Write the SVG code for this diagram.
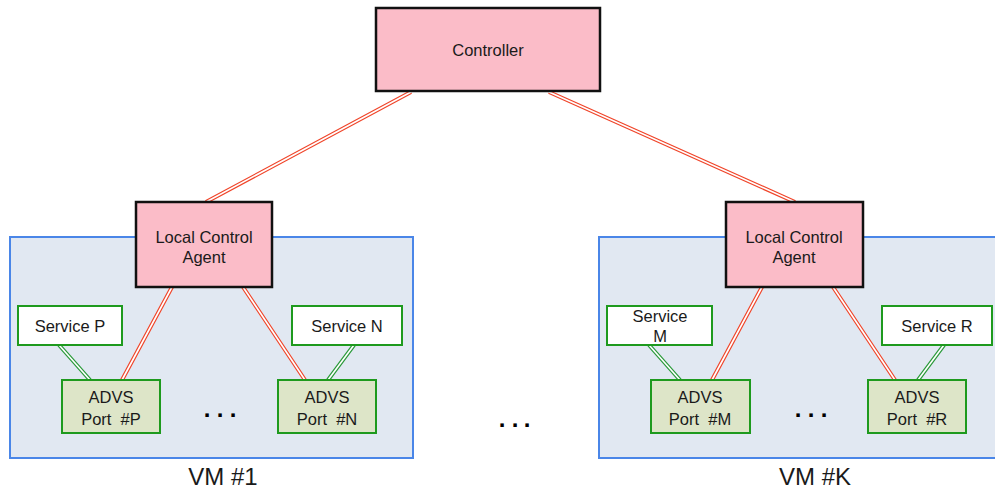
<svg xmlns="http://www.w3.org/2000/svg" width="995" height="491" viewBox="0 0 995 491">
<style>
text{font-family:"Liberation Sans",Arial,sans-serif;fill:#1a1a1a;text-anchor:middle}
.t{font-size:16.5px}
.big{font-size:24px}
.dots{font-size:24px;font-weight:bold;fill:#000}
.vm{fill:#e1e8f2;stroke:#4a86e8;stroke-width:2}
.ctl{fill:#fbbcc8;stroke:#111;stroke-width:2.5}
.svc{fill:#fff;stroke:#1e9a1e;stroke-width:2}
.port{fill:#dde5c8;stroke:#1e9a1e;stroke-width:2}
.ro{stroke:#f0452a;stroke-width:4;fill:none}
.go{stroke:#2a9a3a;stroke-width:4;fill:none}
.in{stroke:#fff;stroke-width:1.6;fill:none}
</style>
<rect width="995" height="491" fill="#fff"/>
<g id="vm1"><rect class="vm" x="10" y="237" width="403" height="221"/></g>
<g id="vmk"><rect class="vm" x="599" y="237" width="400" height="221"/></g>
<g id="connectors">
<g class="ro"><path d="M411,92 L206,202 M549,92 L795,202 M172,287 L122,380 M243,287 L305,380 M762,287 L712,380 M833,287 L895,380"/></g>
<g class="go"><path d="M59,345 L90,380 M354,345 L328,380 M649,345 L680,380 M944,345 L918,380"/></g>
<g class="in"><path d="M411,92 L206,202 M549,92 L795,202 M172,287 L122,380 M243,287 L305,380 M762,287 L712,380 M833,287 L895,380 M59,345 L90,380 M354,345 L328,380 M649,345 L680,380 M944,345 L918,380"/></g>
</g>
<g id="controller"><rect class="ctl" x="376" y="8" width="224" height="83"/><text class="t" x="488" y="56">Controller</text></g>
<g id="lca1"><rect class="ctl" x="136" y="202" width="136" height="85"/><text class="t" x="204" y="243">Local Control</text><text class="t" x="204" y="263">Agent</text></g>
<g id="lcak"><rect class="ctl" x="726" y="202" width="137" height="85"/><text class="t" x="794" y="243">Local Control</text><text class="t" x="794" y="263">Agent</text></g>
<g id="serviceP"><rect class="svc" x="18" y="306" width="104" height="39"/><text class="t" x="70" y="332">Service P</text></g>
<g id="serviceN"><rect class="svc" x="292" y="306" width="110" height="39"/><text class="t" x="347" y="332">Service N</text></g>
<g id="serviceM"><rect class="svc" x="607" y="306" width="105" height="39"/><text class="t" x="660" y="322">Service</text><text class="t" x="660" y="342">M</text></g>
<g id="serviceR"><rect class="svc" x="882" y="306" width="110" height="39"/><text class="t" x="937" y="332">Service R</text></g>
<g id="portP"><rect class="port" x="62" y="380" width="98" height="53"/><text class="t" x="111" y="403">ADVS</text><text class="t" x="111" y="425" xml:space="preserve">Port  #P</text></g>
<g id="portN"><rect class="port" x="278" y="380" width="98" height="53"/><text class="t" x="327" y="403">ADVS</text><text class="t" x="327" y="425" xml:space="preserve">Port  #N</text></g>
<g id="portM"><rect class="port" x="651" y="380" width="99" height="53"/><text class="t" x="700" y="403">ADVS</text><text class="t" x="700" y="425" xml:space="preserve">Port  #M</text></g>
<g id="portR"><rect class="port" x="868" y="380" width="98" height="53"/><text class="t" x="917" y="403">ADVS</text><text class="t" x="917" y="425" xml:space="preserve">Port  #R</text></g>
<text class="dots" x="207 220 233" y="417">...</text>
<text class="dots" x="798 811 824" y="417">...</text>
<text class="dots" x="502 515 527" y="427">...</text>
<text class="big" x="223" y="485">VM #1</text>
<text class="big" x="815" y="485">VM #K</text>
</svg>
